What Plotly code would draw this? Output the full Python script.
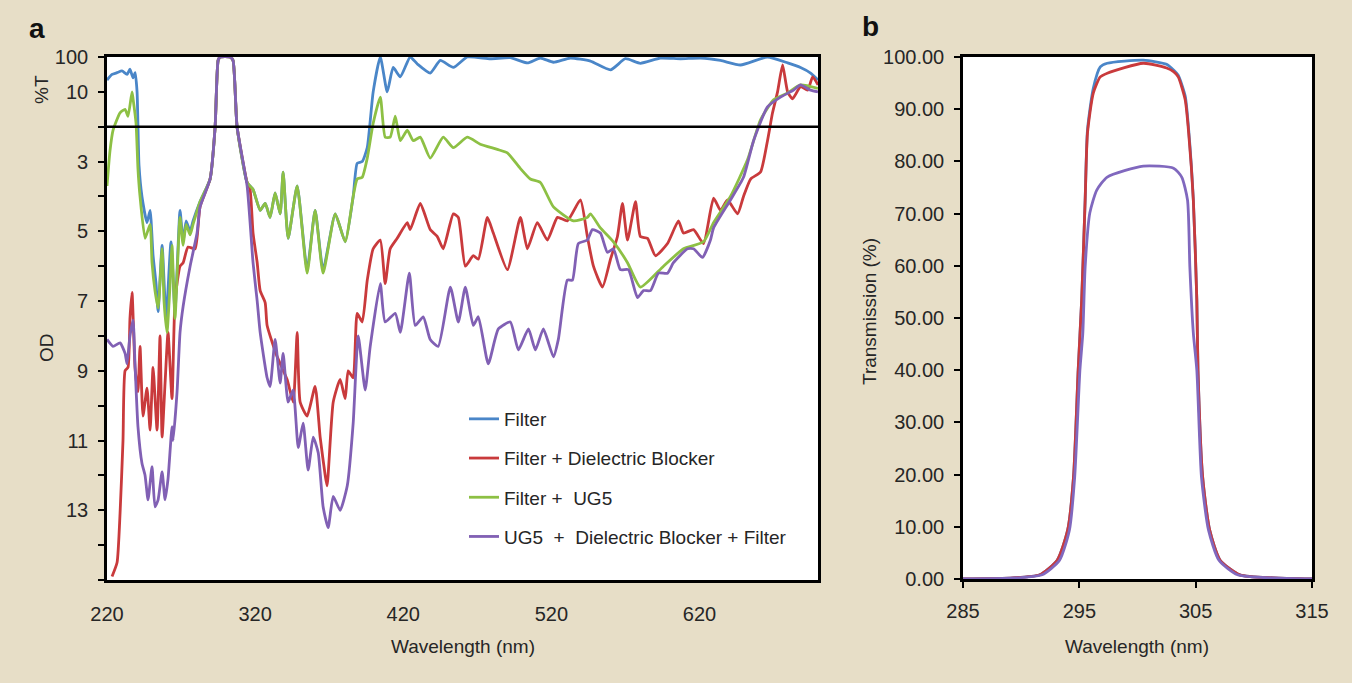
import plotly.graph_objects as go

# ---------------- Panel a data (wavelength nm, optical density) ----------------
filter_wl = [220, 223.4, 226.8, 230.1, 233.5, 235.5, 237.6, 239.0, 240.3, 241.6,
             243.6, 247.0, 249.1, 251.1, 253.1, 254.5, 257.2, 259.9, 263.2, 265.9,
             269.3, 271.4, 273.4, 276.1, 278.1, 282.8, 289.6, 293.0, 295.0, 296.4,
             303.1, 305.1, 307.8, 314.6, 318.6, 323.4, 326.8, 330.1, 333.5, 336.9,
             338.9, 342.3, 348.4, 355.1, 360.5, 365.9, 374.1, 380.8, 386.2, 388.9,
             392.3, 395.7, 399.7, 404.5, 409.2, 413.2, 418.0, 424.7, 429.5, 438.2,
             445.0, 453.8, 463.2, 478.8, 492.3, 503.8, 512.6, 521.4, 532.8, 546.4,
             559.9, 570.0, 580.1, 593.6, 607.2, 620.7, 634.2, 647.7, 665.9, 679.5,
             688.2, 695.0, 700.0]
filter_od = [0.66, 0.5, 0.45, 0.4, 0.5, 0.35, 0.6, 0.45, 1.0, 3.1,
             4.0, 4.75, 4.4, 5.7, 6.5, 7.3, 5.4, 7.5, 5.3, 7.3,
             4.4, 5.3, 4.7, 5.0, 4.7, 4.15, 3.5, 2.0, 0.1, 0.0,
             0.0, 0.1, 2.0, 3.6, 3.8, 4.4, 4.2, 4.6, 3.9, 4.5,
             3.3, 5.2, 3.7, 6.1, 4.4, 6.1, 4.5, 5.3, 4.0, 3.05,
             3.0, 2.6, 1.0, 0.0, 1.0, 0.3, 0.57, 0.0, 0.2, 0.46,
             0.1, 0.3, 0.0, 0.05, 0.02, 0.17, 0.03, 0.15, 0.03, 0.12,
             0.37, 0.05, 0.18, 0.03, 0.05, 0.03, 0.1, 0.23, 0.0, 0.17,
             0.3, 0.46, 0.66]

blocker_wl = [223.4, 226.8, 228.8, 230.8, 232.2, 234.2, 235.5, 236.9, 238.9, 240.9,
              242.3, 244.3, 247.0, 249.1, 251.1, 253.8, 255.8, 257.2, 259.2, 261.2,
              263.9, 265.9, 269.3, 271.4, 274.7, 279.5, 282.8, 289.6, 293.0, 295.0,
              296.4, 303.1, 305.1, 307.8, 314.6, 316.6, 318.6, 321.4, 323.4, 326.8,
              328.1, 334.9, 341.6, 345.7, 348.4, 350.4, 355.1, 360.5, 363.9, 367.3,
              368.6, 372.7, 377.4, 380.8, 382.8, 386.2, 388.9, 392.3, 395.7, 399.7,
              404.5, 407.8, 411.2, 415.9, 422.7, 424.7, 431.5, 438.2, 443.0, 447.0,
              453.8, 457.2, 461.9, 467.3, 470.7, 476.8, 480.8, 490.3, 499.1, 503.8,
              510.5, 517.3, 524.1, 530.8, 539.6, 544.3, 548.4, 554.5, 559.9, 564.6,
              568.0, 571.4, 576.8, 580.1, 584.9, 590.3, 598.4, 605.8, 609.2, 616.0,
              622.7, 629.5, 634.2, 638.9, 645.7, 649.7, 654.5, 661.2, 665.9, 669.3,
              672.7, 676.1, 679.5, 682.8, 688.2, 693.0, 696.4, 700.0]
blocker_od = [14.9, 14.5, 13.1, 11.0, 9.0, 8.9, 7.5, 6.75, 8.9, 9.6,
              8.3, 10.3, 9.5, 10.7, 8.9, 10.7, 8.0, 10.9, 9.35, 7.9,
              9.8, 7.0, 6.0, 5.9, 5.45, 5.5, 4.3, 3.5, 2.0, 0.1,
              0.0, 0.0, 0.1, 2.0, 3.6, 3.8, 5.05, 5.9, 6.7, 7.05,
              7.7, 8.6, 9.25, 9.9, 7.9, 9.9, 10.3, 9.45, 10.9, 12.0,
              12.3, 9.9, 9.25, 9.8, 9.0, 9.2, 7.35, 7.6, 6.4, 5.5,
              5.25, 6.5, 5.5, 5.2, 4.75, 4.95, 4.2, 4.95, 5.15, 5.5,
              4.5, 4.6, 6.0, 5.7, 5.8, 4.6, 5.05, 6.1, 4.6, 5.5,
              4.75, 5.25, 4.6, 4.7, 4.1, 5.15, 6.0, 6.6, 5.8, 5.15,
              4.2, 5.25, 4.15, 5.15, 5.2, 5.7, 5.35, 4.7, 5.05, 4.95,
              5.35, 4.05, 4.4, 4.1, 4.5, 4.0, 3.5, 3.3, 2.4, 1.6,
              1.0, 0.23, 1.0, 1.2, 0.85, 0.95, 0.57, 0.8]

ug5_wl = [220.0, 222.0, 224.1, 228.8, 232.2, 234.2, 236.9, 237.6, 239.6, 240.9,
          242.3, 245.7, 249.1, 250.4, 252.4, 254.5, 257.2, 258.5, 260.5, 262.6,
          263.9, 265.9, 269.3, 271.4, 273.4, 276.1, 278.1, 282.8, 289.6, 293.0,
          295.0, 296.4, 303.1, 305.1, 307.8, 314.6, 318.6, 323.4, 326.8, 330.1,
          333.5, 336.9, 338.9, 342.3, 348.4, 355.1, 360.5, 365.9, 374.1, 380.8,
          386.2, 388.9, 392.3, 395.7, 399.7, 404.5, 407.8, 411.2, 414.6, 418.0,
          422.7, 426.8, 431.5, 438.2, 447.0, 453.8, 463.2, 472.0, 483.5, 490.3,
          499.1, 505.8, 512.6, 521.4, 534.9, 544.3, 546.4, 553.1, 561.9, 571.4,
          580.1, 595.7, 609.2, 622.7, 629.5, 640.9, 652.4, 661.2, 670.0, 679.5,
          688.2, 700.0]
ug5_od = [3.7, 2.7, 2.1, 1.6, 1.5, 1.7, 1.0, 1.2, 1.9, 3.2,
          4.0, 5.2, 4.8, 5.9, 6.7, 7.2, 5.5, 7.0, 7.9, 6.5,
          5.4, 7.5, 4.6, 5.4, 4.8, 5.1, 4.8, 4.15, 3.5, 2.0,
          0.1, 0.0, 0.0, 0.1, 2.0, 3.6, 3.8, 4.4, 4.2, 4.6,
          3.9, 4.5, 3.3, 5.2, 3.7, 6.2, 4.4, 6.2, 4.5, 5.3,
          4.0, 3.5, 3.45, 2.9, 1.9, 1.15, 2.3, 2.3, 1.7, 2.4,
          2.1, 2.4, 2.3, 2.9, 2.3, 2.6, 2.3, 2.5, 2.65, 2.75,
          3.2, 3.5, 3.6, 4.3, 4.7, 4.6, 4.5, 4.9, 5.3, 5.9,
          6.6, 6.0, 5.5, 5.3, 4.75, 4.0, 2.95, 1.8, 1.23, 1.03,
          0.8, 0.9]

all_wl = [220.0, 224.1, 228.8, 232.2, 233.5, 235.5, 237.6, 238.9, 240.9, 243.6,
          245.7, 247.7, 250.4, 252.4, 254.5, 257.2, 259.2, 261.2, 263.9, 264.6,
          267.3, 269.3, 271.4, 276.1, 280.8, 282.8, 289.6, 293.0, 295.0, 296.4,
          303.1, 305.1, 307.8, 314.6, 318.6, 321.4, 323.4, 328.1, 330.1, 333.5,
          336.9, 338.9, 342.3, 345.7, 349.1, 352.4, 355.8, 359.2, 362.6, 365.9,
          369.3, 372.7, 377.4, 382.2, 386.2, 389.6, 394.3, 397.7, 404.5, 407.8,
          414.6, 418.0, 424.1, 428.1, 433.5, 438.2, 443.6, 451.8, 457.2, 461.9,
          467.3, 470.7, 477.4, 484.2, 492.3, 497.7, 504.5, 509.2, 514.6, 521.4,
          524.7, 530.8, 534.2, 538.2, 544.3, 547.7, 553.1, 557.8, 561.9, 566.6,
          572.0, 578.1, 582.2, 586.9, 592.3, 598.4, 602.4, 611.9, 616.0, 622.0,
          627.4, 629.5, 640.9, 649.7, 656.5, 665.9, 674.7, 683.5, 688.2, 695.0,
          700.0]
all_od = [8.1, 8.3, 8.2, 8.5, 8.8, 8.0, 7.55, 8.8, 10.6, 11.65,
          12.0, 12.7, 11.75, 12.9, 12.7, 11.9, 12.7, 12.1, 10.6, 11.0,
          9.6, 7.9, 7.15, 6.0, 5.05, 4.3, 3.5, 2.0, 0.1, 0.0,
          0.0, 0.1, 2.0, 3.7, 5.9, 7.0, 7.9, 9.2, 9.45, 8.1,
          9.35, 8.5, 9.9, 9.55, 11.2, 10.5, 11.85, 10.9, 11.35, 12.9,
          13.5, 12.6, 13.0, 12.3, 10.5, 8.0, 9.55, 8.3, 6.5, 7.6,
          7.35, 7.9, 6.2, 7.7, 7.45, 8.1, 8.3, 6.6, 7.6, 6.6,
          7.7, 7.45, 8.8, 7.8, 7.6, 8.4, 7.8, 8.4, 7.8, 8.6,
          8.1, 6.4, 6.4, 5.35, 5.25, 4.95, 5.05, 5.6, 5.5, 6.1,
          6.1, 6.9, 6.7, 6.7, 6.2, 6.2, 5.9, 5.5, 5.5, 5.75,
          5.25, 4.9, 4.1, 3.45, 2.4, 1.43, 1.15, 0.95, 0.8, 0.95,
          1.0]

series_names = ["Filter", "Filter + Dielectric Blocker", "Filter + \u00a0UG5",
                "UG5 \u00a0+ \u00a0Dielectric Blocker + Filter"]
series_colors = ["#4A86C8", "#C93A3C", "#8DC044", "#8160B4"]

od_ticks = list(range(0, 16))
od_ticktext = ["100", "10", "", "3", "", "5", "", "7", "", "9", "", "11", "", "13", "", ""]
wl_ticks_a = [220, 320, 420, 520, 620]

# ---------------- Panel b data (wavelength nm, transmission %) ----------------
b_wl = [285, 289.3, 291.6, 293.1, 294.0, 294.5, 294.9, 295.2, 295.5, 295.7,
        296.2, 296.8, 297.4, 300.5, 302.5, 303.1, 303.5, 304.1, 304.4, 304.8,
        305.1, 305.2, 305.6, 306.2, 307.1, 308.8, 311.7, 315]
b_filter = [0, 0.2, 0.8, 3.6, 9.4, 19.5, 40, 53.4, 72.6, 86,
            94, 98.1, 98.8, 99.4, 98.6, 97.5, 96.5, 92.5, 86, 72.6,
            53.4, 40, 19.5, 9.4, 3.6, 0.8, 0.2, 0]
b_blocker = [0, 0.2, 0.8, 3.6, 9.4, 19.5, 40, 53.4, 72.6, 85.4,
             93.1, 96.2, 96.9, 98.8, 97.9, 97.2, 96.2, 91.8, 85.4, 72.6,
             53.4, 40, 19.5, 9.4, 3.6, 0.8, 0.2, 0]
b_all_wl = [285, 289.5, 291.8, 293.3, 294.15, 294.6, 295.05, 295.3, 295.5, 295.9,
            296.5, 297.4, 300.5, 303.1, 303.8, 304.3, 304.5, 304.8, 305.1, 305.5,
            306.1, 307.0, 308.6, 311.5, 315]
b_all = [0, 0.2, 0.8, 3.6, 9.4, 19.5, 40, 47.1, 59.8, 70.1,
         74.5, 77, 79.1, 78.7, 77, 72.6, 59.8, 47.1, 40, 19.5,
         9.4, 3.6, 0.8, 0.2, 0]
wl_ticks_b = [285, 295, 305, 315]

# ---------------- figure ----------------
W, H = 1352, 683
FONT = "Liberation Sans, Arial, sans-serif"
TXT = "#262626"
BG = "#E7DEC7"


def px(x):
    return x / W


def py(y):
    return 1 - y / H


fig = go.Figure()

for wl, od, name, col in zip([filter_wl, blocker_wl, ug5_wl, all_wl],
                             [filter_od, blocker_od, ug5_od, all_od],
                             series_names, series_colors):
    fig.add_trace(go.Scatter(x=wl, y=od, mode="lines", name=name,
                             legendgroup=name,
                             line=dict(color=col, width=2.8, shape="spline", smoothing=0.5),
                             xaxis="x", yaxis="y"))

for wl, tv, col in zip([b_wl, b_wl, b_all_wl], [b_filter, b_blocker, b_all],
                       ["#4A86C8", "#C93A3C", "#8068BE"]):
    fig.add_trace(go.Scatter(x=wl, y=tv, mode="lines", showlegend=False,
                             line=dict(color=col, width=2.8, shape="spline", smoothing=0.6),
                             xaxis="x2", yaxis="y2"))

dom_xa = [px(107), px(818)]
dom_ya = [py(580), py(57)]
dom_xb = [px(963), px(1312)]
dom_yb = [py(579), py(57)]

axis_common = dict(showline=True, linecolor="black", linewidth=2.6, mirror=True,
                   showgrid=False, zeroline=False, automargin=False,
                   tickfont=dict(family=FONT, size=20, color=TXT))

fig.update_layout(
    width=W, height=H,
    margin=dict(l=0, r=0, t=0, b=0, autoexpand=False),
    paper_bgcolor=BG, plot_bgcolor="white",
    font=dict(family=FONT, color=TXT),
    xaxis=dict(domain=dom_xa, range=[220, 700], tickvals=wl_ticks_a, ticks="",
               ticklabelstandoff=14, anchor="y", **axis_common),
    yaxis=dict(domain=dom_ya, range=[15, 0], tickvals=od_ticks, ticktext=od_ticktext,
               ticks="outside", ticklen=6, tickwidth=2, tickcolor="black",
               ticklabelstandoff=6, anchor="x", **axis_common),
    xaxis3=dict(overlaying="x", anchor="free", position=py(126), range=[220, 700],
                tickvals=[320, 420, 520, 620], ticks="outside", ticklen=6, tickwidth=2,
                tickcolor="black", showticklabels=False, showline=False, showgrid=False,
                zeroline=False, automargin=False),
    xaxis2=dict(domain=dom_xb, range=[285, 315], tickvals=wl_ticks_b, ticks="outside",
                ticklen=6, tickwidth=2, tickcolor="black", ticklabelstandoff=6,
                anchor="y2", **axis_common),
    yaxis2=dict(domain=dom_yb, range=[0, 100], dtick=10, tickformat=".2f",
                ticks="outside", ticklen=6, tickwidth=2, tickcolor="black",
                ticklabelstandoff=6, anchor="x2", **axis_common),
    legend=dict(x=px(464), y=py(400), xanchor="left", yanchor="top",
                bgcolor="rgba(0,0,0,0)", font=dict(family=FONT, size=19, color=TXT),
                tracegroupgap=11.5, itemwidth=30),
    showlegend=True,
)

# divider between %T and OD regions
fig.add_shape(type="line", xref="paper", yref="y", x0=dom_xa[0], x1=dom_xa[1], y0=2, y1=2,
              line=dict(color="black", width=2.6))

ann = [
    dict(text="<b>a</b>", x=px(37), y=py(28), size=28, angle=0),
    dict(text="<b>b</b>", x=px(870), y=py(26), size=28, angle=0),
    dict(text="Wavelength (nm)", x=px(463), y=py(646), size=19, angle=0),
    dict(text="Wavelength (nm)", x=px(1137), y=py(646), size=19, angle=0),
    dict(text="OD", x=px(46), y=py(348), size=19, angle=-90),
    dict(text="%T", x=px(41), y=py(90), size=19, angle=-90),
    dict(text="Transmission (%)", x=px(869), y=py(312), size=19, angle=-90),
]
for a in ann:
    fig.add_annotation(text=a["text"], x=a["x"], y=a["y"], xref="paper", yref="paper",
                       showarrow=False, textangle=a["angle"], xanchor="center",
                       yanchor="middle",
                       font=dict(family=FONT, size=a["size"], color="#111" if "<b>" in a["text"] else TXT))

fig.write_html("out.html", config={"displayModeBar": False},
               post_script="document.body.style.margin='0';document.body.style.overflow='hidden';")
